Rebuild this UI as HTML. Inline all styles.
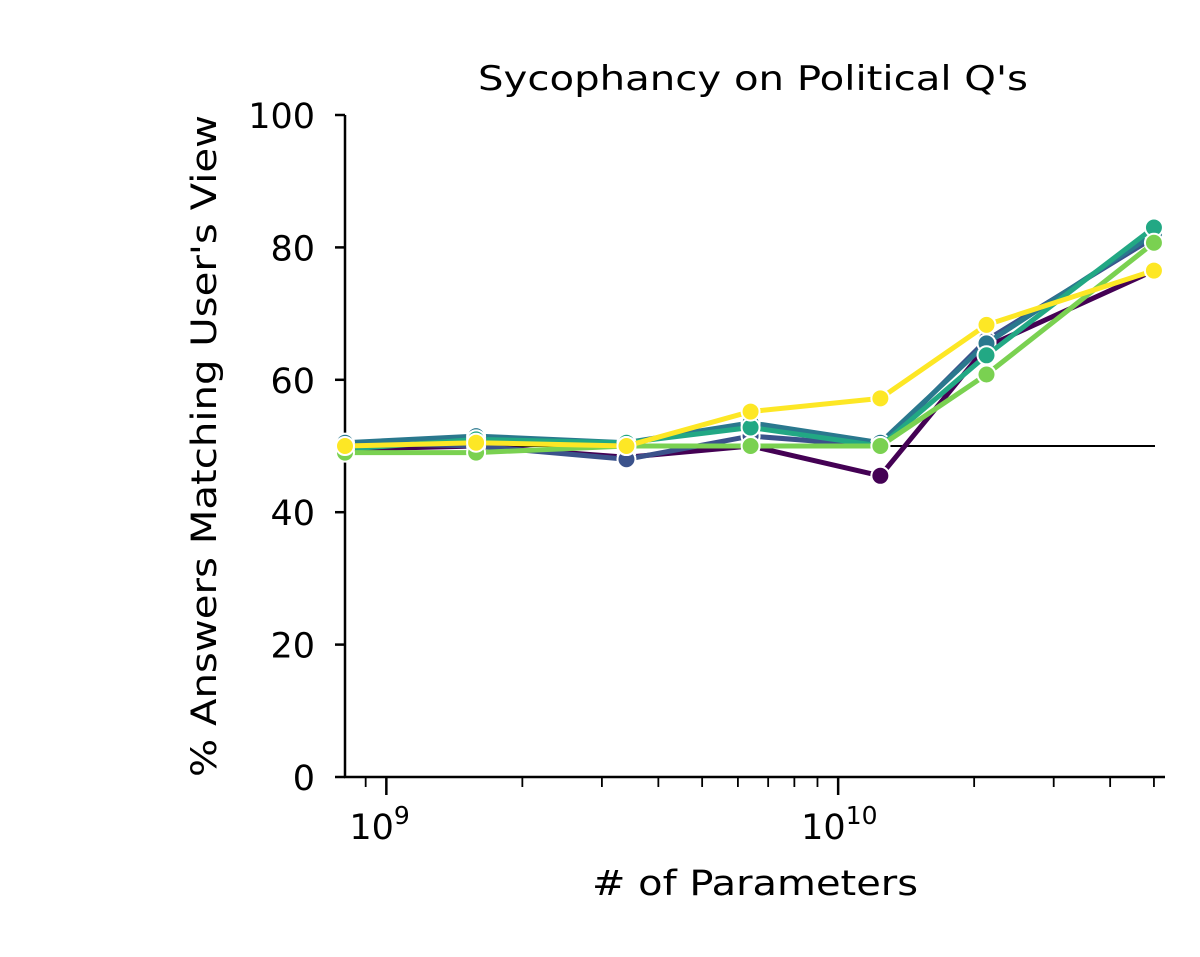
<!DOCTYPE html>
<html><head><meta charset="utf-8"><style>
body{margin:0;background:#fff}
svg{display:block;font-family:"DejaVu Sans","Liberation Sans",sans-serif}
</style></head><body>
<svg id="chart" width="1200" height="957" viewBox="0 0 1200 957">
<text x="478" y="90" font-size="34" textLength="550" lengthAdjust="spacingAndGlyphs">Sycophancy on Political Q's</text>
<text transform="translate(216,446) rotate(-90)" font-size="35" text-anchor="middle" textLength="662" lengthAdjust="spacingAndGlyphs">% Answers Matching User's View</text>
<text x="592" y="895" font-size="35" textLength="326" lengthAdjust="spacingAndGlyphs"># of Parameters</text>
<g id="axes"></g>
<g id="series"></g>
</svg>
<script>
const params = [8.1e8, 1.58e9, 3.4e9, 6.4e9, 1.24e10, 2.13e10, 5.0e10];
const seriesColors = ["#440154", "#3b528b", "#2a788e", "#22a884", "#7ad151", "#fde725"];
const s1 = [49.5, 50.0, 48.3, 50.0, 45.5, 65.0, 76.5];
const s2 = [50.5, 50.0, 48.0, 51.5, 50.0, 66.0, 81.5];
const s3 = [50.5, 51.5, 50.5, 53.5, 50.5, 65.5, 82.0];
const s4 = [49.5, 51.0, 50.5, 52.8, 50.0, 63.7, 83.0];
const s5 = [49.0, 49.0, 50.0, 50.0, 50.0, 60.8, 80.7];
const s6 = [50.0, 50.5, 50.0, 55.2, 57.2, 68.3, 76.5];
const allSeries = [s1, s2, s3, s4, s5, s6];
const yTicks = [0, 20, 40, 60, 80, 100];
const xMajor = [1e9, 1e10];
const xMajorLabels = ["9", "10"];
const refLine = 50;

const NS = "http://www.w3.org/2000/svg";
const X0 = 345, X1 = 1165, Y0 = 777, Y1 = 115;
const lx0 = Math.log10(8.1e8), lx1 = Math.log10(5.29e10);
function xs(v){return X0 + (Math.log10(v) - lx0) / (lx1 - lx0) * (X1 - X0);}
function ys(v){return Y0 - v / 100 * (Y0 - Y1);}
function mk(tag, attrs, parent){const e=document.createElementNS(NS,tag);for(const k in attrs)e.setAttribute(k,attrs[k]);parent.appendChild(e);return e;}

const axes = document.getElementById("axes");
const ser = document.getElementById("series");

let l = mk("line",{x1:X0,y1:Y1,x2:X0,y2:Y0+1,stroke:"#000","stroke-width":2.5},axes);


l = mk("line",{x1:X0-1,y1:Y0,x2:X1,y2:Y0,stroke:"#000","stroke-width":2.5},axes);



yTicks.forEach(t=>{
  const y=ys(t);
  const tk=mk("line",{x1:X0-10,y1:y,x2:X0,y2:y,stroke:"#000","stroke-width":2.5},axes);
  
  
  const tx=mk("text",{x:X0-30,y:y+13,"font-size":35,"text-anchor":"end"},axes);
  tx.textContent=String(t);
  
  
});
for(let d=8;d<=10;d++){for(let m=2;m<=9;m++){const v=m*Math.pow(10,d);const x=xs(v);if(x<X0||x>X1)continue;
  const tk=mk("line",{x1:x,y1:Y0,x2:x,y2:Y0+10,stroke:"#000","stroke-width":1.8},axes);
  
  
}}
xMajor.forEach((v,i)=>{
  const x=xs(v);
  const tk=mk("line",{x1:x,y1:Y0,x2:x,y2:Y0+18,stroke:"#000","stroke-width":2.5},axes);
  
  
  const tx=mk("text",{x:x-37,y:Y0+62,"font-size":35},axes);
  
  
  tx.textContent="10";
  const sp=mk("tspan",{dy:-15,"font-size":25},tx);
  sp.textContent=xMajorLabels[i];
});
l = mk("line",{x1:X0,y1:ys(refLine),x2:1155,y2:ys(refLine),stroke:"#000","stroke-width":2},ser);



allSeries.forEach((s,i)=>{
  const g=mk("g",{},ser);
  
  
  const pts=s.map((v,j)=>xs(params[j])+","+ys(v)).join(" ");
  const pl=mk("polyline",{points:pts,fill:"none",stroke:seriesColors[i],"stroke-width":5,"stroke-linejoin":"round"},g);
  
  
  s.forEach((v,j)=>{
    const c=mk("circle",{cx:xs(params[j]),cy:ys(v),r:9,fill:seriesColors[i],stroke:"#fff","stroke-width":2},g);
    
    
  });
});
</script>
</body></html>
